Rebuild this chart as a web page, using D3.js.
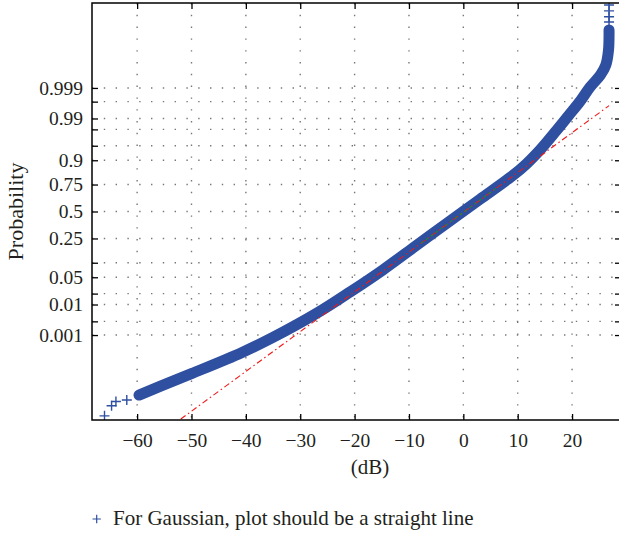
<!DOCTYPE html>
<html>
<head>
<meta charset="utf-8">
<script src="https://cdn.jsdelivr.net/npm/d3@7"></script>
<style>
  body { margin: 0; background: #fff; }
  svg { display: block; font-family: "Liberation Serif", "Times New Roman", serif; }
</style>
</head>
<body>
<script>
// normal probability plot: sorted samples (dB) against cumulative probability
var lowTailDb   = [-66.0, -64.7, -63.9, -61.9];
var lowTailProb = [1.6e-7, 5.9e-7, 1.0e-6, 1.2e-6];

var bandDb   = [-59.65, -55.8, -49.9, -40.7, -35.2, -26.9, -20.8, -14.8, -9.25, -3.0, 3.1, 8.0,
                10.8, 14.1, 17.2, 19.3, 21.5, 23.3, 25.2, 26.2, 26.7, 26.8];
var bandProb = [2.2e-6, 6.1e-6, 2.57e-5, 2.12e-4, 7.8e-4, 0.00554, 0.0222, 0.0721, 0.1814, 0.3859, 0.6217, 0.7852,
                0.8621, 0.9382, 0.9793, 0.99158, 0.99711, 0.999065, 0.999675, 0.999874, 0.999973, 0.9999972];

var highTailDb   = [26.8, 26.8, 26.8, 26.8];
var highTailProb = [0.99999893, 0.99999944, 0.99999974, 0.99999988];

// fitted gaussian reference line and the quartile part of it
var fitMean = 0.2, fitStd = 10.05;
var quartileDb = [-7.8, 6.5];

var xTicks = [-60, -50, -40, -30, -20, -10, 0, 10, 20];
var yTicks = [0.001, 0.003, 0.01, 0.02, 0.05, 0.10, 0.25, 0.50, 0.75, 0.90, 0.95, 0.98, 0.99, 0.997, 0.999];
var yTickLabels = ["0.001", "", "0.01", "", "0.05", "", "0.25", "0.5", "0.75", "0.9", "", "", "0.99", "", "0.999"];

// inverse normal cdf (Acklam)
function probit(p) {
  var a = [-39.69683028665376, 220.9460984245205, -275.9285104469687, 138.3577518672690, -30.66479806614716, 2.506628277459239],
      b = [-54.47609879822406, 161.5858368580409, -155.6989798598866, 66.80131188771972, -13.28068155288572],
      c = [-0.007784894002430293, -0.3223964580411365, -2.400758277161838, -2.549732539343734, 4.374664141464968, 2.938163982698783],
      d = [0.007784695709041462, 0.3224671290700398, 2.445134137142996, 3.754408661907416];
  var q, r;
  if (p < 0.02425) {
    q = Math.sqrt(-2 * Math.log(p));
    return (((((c[0]*q+c[1])*q+c[2])*q+c[3])*q+c[4])*q+c[5]) / ((((d[0]*q+d[1])*q+d[2])*q+d[3])*q+1);
  }
  if (p > 1 - 0.02425) {
    q = Math.sqrt(-2 * Math.log(1 - p));
    return -(((((c[0]*q+c[1])*q+c[2])*q+c[3])*q+c[4])*q+c[5]) / ((((d[0]*q+d[1])*q+d[2])*q+d[3])*q+1);
  }
  q = p - 0.5; r = q * q;
  return (((((a[0]*r+a[1])*r+a[2])*r+a[3])*r+a[4])*r+a[5])*q / (((((b[0]*r+b[1])*r+b[2])*r+b[3])*r+b[4])*r+1);
}

var W = 619, H = 533;
// plot box edges (window.top is reserved, so prefix them)
var pLeft = 92, pRight = 621, pTop = 3, pBottom = 420;
var blue = "#2f4fa0";

var svg = d3.select("body").append("svg").attr("width", W).attr("height", H);

var x = d3.scaleLinear().domain([-68.3, 29]).range([pLeft, pRight]);
var z = d3.scaleLinear().domain([-5.215, 5.215]).range([pBottom, pTop]);
function yp(p) { return z(probit(p)); }

svg.append("clipPath").attr("id", "plotClip")
  .append("rect").attr("x", pLeft).attr("y", pTop).attr("width", pRight - pLeft).attr("height", pBottom - pTop);

// dotted grid
var grid = svg.append("g").attr("stroke", "#777").attr("stroke-width", 1.4)
  .attr("stroke-dasharray", "1.4,10.4").attr("fill", "none");
xTicks.forEach(function(t) {
  grid.append("line").attr("x1", x(t)).attr("x2", x(t)).attr("y1", pTop).attr("y2", pBottom);
});
yTicks.forEach(function(p) {
  grid.append("line").attr("x1", pLeft).attr("x2", pRight).attr("y1", yp(p)).attr("y2", yp(p));
});

var plot = svg.append("g").attr("clip-path", "url(#plotClip)");

// dense body of the data: markers merge into a band
var band = bandDb.map(function(d, i) { return [d, bandProb[i]]; });
plot.append("path")
  .datum(band)
  .attr("fill", "none")
  .attr("stroke", blue)
  .attr("stroke-width", 11)
  .attr("stroke-linejoin", "round")
  .attr("stroke-linecap", "round")
  .attr("d", d3.line().x(function(d) { return x(d[0]); }).y(function(d) { return yp(d[1]); })
    .curve(d3.curveCatmullRom.alpha(0.5)));

// sparse tail samples drawn as single + markers
var tails = lowTailDb.map(function(d, i) { return [d, lowTailProb[i]]; })
  .concat(highTailDb.map(function(d, i) { return [d, highTailProb[i]]; }));
function plusPath(cx, cy, s) {
  return "M" + (cx - s) + "," + cy + "H" + (cx + s) + "M" + cx + "," + (cy - s) + "V" + (cy + s);
}
plot.selectAll("path.tail")
  .data(tails)
  .enter().append("path")
  .attr("class", "tail")
  .attr("fill", "none")
  .attr("stroke", blue)
  .attr("stroke-width", 1.4)
  .attr("d", function(d) { return plusPath(x(d[0]), yp(d[1]), 5); });

// reference line over the full data range
var xMin = d3.min(lowTailDb), xMax = d3.max(highTailDb);
function fitZ(v) { return (v - fitMean) / fitStd; }
plot.append("line")
  .attr("x1", x(xMin)).attr("y1", z(fitZ(xMin)))
  .attr("x2", x(xMax)).attr("y2", z(fitZ(xMax)))
  .attr("stroke", "#f01818").attr("stroke-width", 1.1)
  .attr("stroke-dasharray", "6,3,1.5,3");

plot.append("line")
  .attr("x1", x(quartileDb[0])).attr("y1", z(fitZ(quartileDb[0])))
  .attr("x2", x(quartileDb[1])).attr("y2", z(fitZ(quartileDb[1])))
  .attr("stroke", "#1f8a2a").attr("stroke-width", 1.1)
  .attr("stroke-dasharray", "3,3");

// axes with inward ticks
var yTickZ = yTicks.map(probit);

var axB = svg.append("g").attr("transform", "translate(0," + pBottom + ")")
  .call(d3.axisBottom(x).tickValues(xTicks).tickSizeInner(-6).tickSizeOuter(0).tickPadding(13));
var axT = svg.append("g").attr("transform", "translate(0," + pTop + ")")
  .call(d3.axisTop(x).tickValues(xTicks).tickSizeInner(-6).tickSizeOuter(0).tickFormat(""));
var axL = svg.append("g").attr("transform", "translate(" + pLeft + ",0)")
  .call(d3.axisLeft(z).tickValues(yTickZ).tickSizeInner(-6).tickSizeOuter(0).tickPadding(9)
    .tickFormat(function(d, i) { return yTickLabels[i]; }));
var axR = svg.append("g").attr("transform", "translate(" + pRight + ",0)")
  .call(d3.axisRight(z).tickValues(yTickZ).tickSizeInner(-6).tickSizeOuter(0).tickFormat(""));

[axB, axT, axL, axR].forEach(function(g) {
  g.select(".domain").remove();
  g.selectAll(".tick line").attr("stroke", "#000").attr("stroke-width", 1.3);
  g.selectAll(".tick text").attr("fill", "#231f20").style("font-size", "19.5px")
    .style("font-family", "'Liberation Serif', serif");
});

svg.append("rect")
  .attr("x", pLeft).attr("y", pTop).attr("width", pRight - pLeft).attr("height", pBottom - pTop)
  .attr("fill", "none").attr("stroke", "#000").attr("stroke-width", 1.5);

// labels
svg.append("text")
  .attr("transform", "translate(23," + ((pTop + pBottom) / 2) + ") rotate(-90)")
  .attr("text-anchor", "middle")
  .attr("fill", "#231f20")
  .style("font-size", "22px")
  .text("Probability");

svg.append("text")
  .attr("x", 370).attr("y", 474)
  .attr("text-anchor", "middle")
  .attr("fill", "#231f20")
  .style("font-size", "21px")
  .text("(dB)");

// legend
svg.append("path")
  .attr("fill", "none").attr("stroke", blue).attr("stroke-width", 1.2)
  .attr("d", plusPath(96.7, 519, 4.2));
svg.append("text")
  .attr("x", 113).attr("y", 525)
  .attr("fill", "#231f20")
  .style("font-size", "21px")
  .text("For Gaussian, plot should be a straight line");
</script>
</body>
</html>
